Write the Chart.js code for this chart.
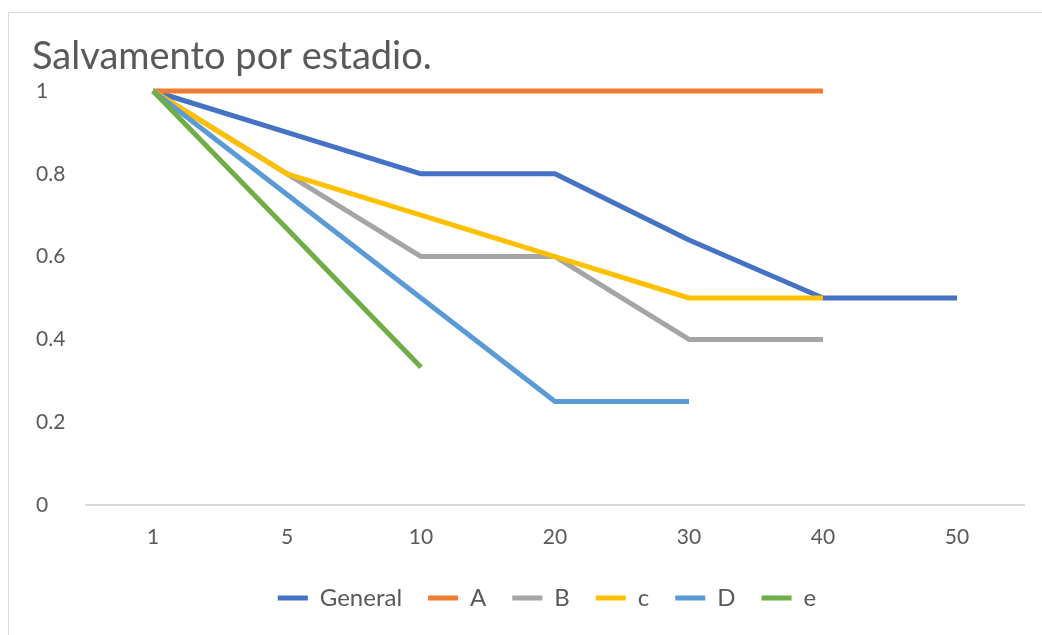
<!DOCTYPE html>
<html>
<head>
<meta charset="utf-8">
<script src="https://cdn.jsdelivr.net/npm/chart.js@4/dist/chart.umd.min.js"></script>
<style>
  html, body { margin: 0; padding: 0; background: #ffffff; overflow: hidden; }
  #wrap { position: relative; width: 1042px; height: 635px; overflow: hidden; }
  #frame { position: absolute; left: 8px; top: 12px; width: 1040px; height: 640px;
           border-left: 1px solid #d9d9d9; border-top: 1px solid #d9d9d9; box-sizing: border-box; }
  #c { position: absolute; left: 0; top: 0; }
</style>
</head>
<body>
<div id="wrap">
  <div id="frame"></div>
  <canvas id="c" width="1042" height="620" style="width:1042px;height:620px"></canvas>
</div>
<script>
const titleText = 'Salvamento por estadio.';
const categories = ['1', '5', '10', '20', '30', '40', '50'];
const seriesNames = ['General', 'A', 'B', 'c', 'D', 'e'];
const generalVals = [1, 0.9, 0.8, 0.8, 0.64, 0.5, 0.5];
const aVals = [1, 1, 1, 1, 1, 1, null];
const bVals = [1, 0.8, 0.6, 0.6, 0.4, 0.4, null];
const cVals = [1, 0.8, 0.7, 0.6, 0.5, 0.5, null];
const dVals = [1, 0.75, 0.5, 0.25, 0.25, null, null];
const eVals = [1, 0.667, 0.333, null, null, null, null];
const yTicks = [0, 0.2, 0.4, 0.6, 0.8, 1];

const colors = ['#4472C4', '#ED7D31', '#A5A5A5', '#FFC000', '#5B9BD5', '#70AD47'];
const allVals = [generalVals, aVals, bVals, cVals, dVals, eVals];
const FONT = 'Lato, "Open Sans", sans-serif';
const TXT = '#595959';

const datasets = seriesNames.map((name, i) => ({
  label: name,
  data: allVals[i],
  borderColor: colors[i],
  backgroundColor: colors[i],
  borderWidth: 5,
  pointRadius: 0,
  pointHoverRadius: 0,
  tension: 0,
  spanGaps: false,
  fill: false,
  clip: 10,
  borderCapStyle: 'butt',
  borderJoinStyle: 'round',
  order: seriesNames.length - i
}));

const nudge = {
  id: 'nudge',
  afterLayout(chart) {
    chart.scales.y.left += 4;
    chart.legend.left += 19;
    chart.legend.right += 19;
  }
};

new Chart(document.getElementById('c'), {
  type: 'line',
  data: { labels: categories, datasets: datasets },
  plugins: [nudge],
  options: {
    responsive: false,
    animation: false,
    layout: { padding: { left: 32, right: 18, top: 0, bottom: 0 } },
    plugins: {
      tooltip: { enabled: false },
      title: {
        display: true,
        text: titleText,
        align: 'start',
        color: TXT,
        font: { family: FONT, size: 38, weight: 'normal', lineHeight: 1.2 },
        padding: { top: 34, bottom: 11.4 }
      },
      legend: {
        position: 'bottom',
        labels: {
          color: TXT,
          font: { family: FONT, size: 24 },
          boxWidth: 30,
          boxHeight: 5,
          padding: 26,
          sort: (a, b) => a.datasetIndex - b.datasetIndex,
          generateLabels: (chart) => Chart.defaults.plugins.legend.labels.generateLabels(chart)
            .map(l => Object.assign({}, l, { lineWidth: 0, fillStyle: l.strokeStyle }))
        }
      }
    },
    scales: {
      x: {
        type: 'category',
        offset: true,
        grid: { display: false, drawTicks: false },
        border: { display: true, color: '#d9d9d9', width: 2 },
        ticks: { color: TXT, font: { family: FONT, size: 21 }, padding: 20, maxRotation: 0 },
        afterFit: (s) => { s.height = 55; }
      },
      y: {
        min: 0,
        max: 1,
        grid: { display: false, drawTicks: false },
        border: { display: false },
        afterBuildTicks: (s) => { s.ticks = yTicks.map(v => ({ value: v })); },
        ticks: {
          color: TXT,
          font: { family: FONT, size: 21 },
          crossAlign: 'far',
          padding: 10,
          callback: (v) => String(Math.round(v * 10) / 10)
        },
        afterFit: (s) => { s.width = 54; }
      }
    }
  }
});
</script>
</body>
</html>
